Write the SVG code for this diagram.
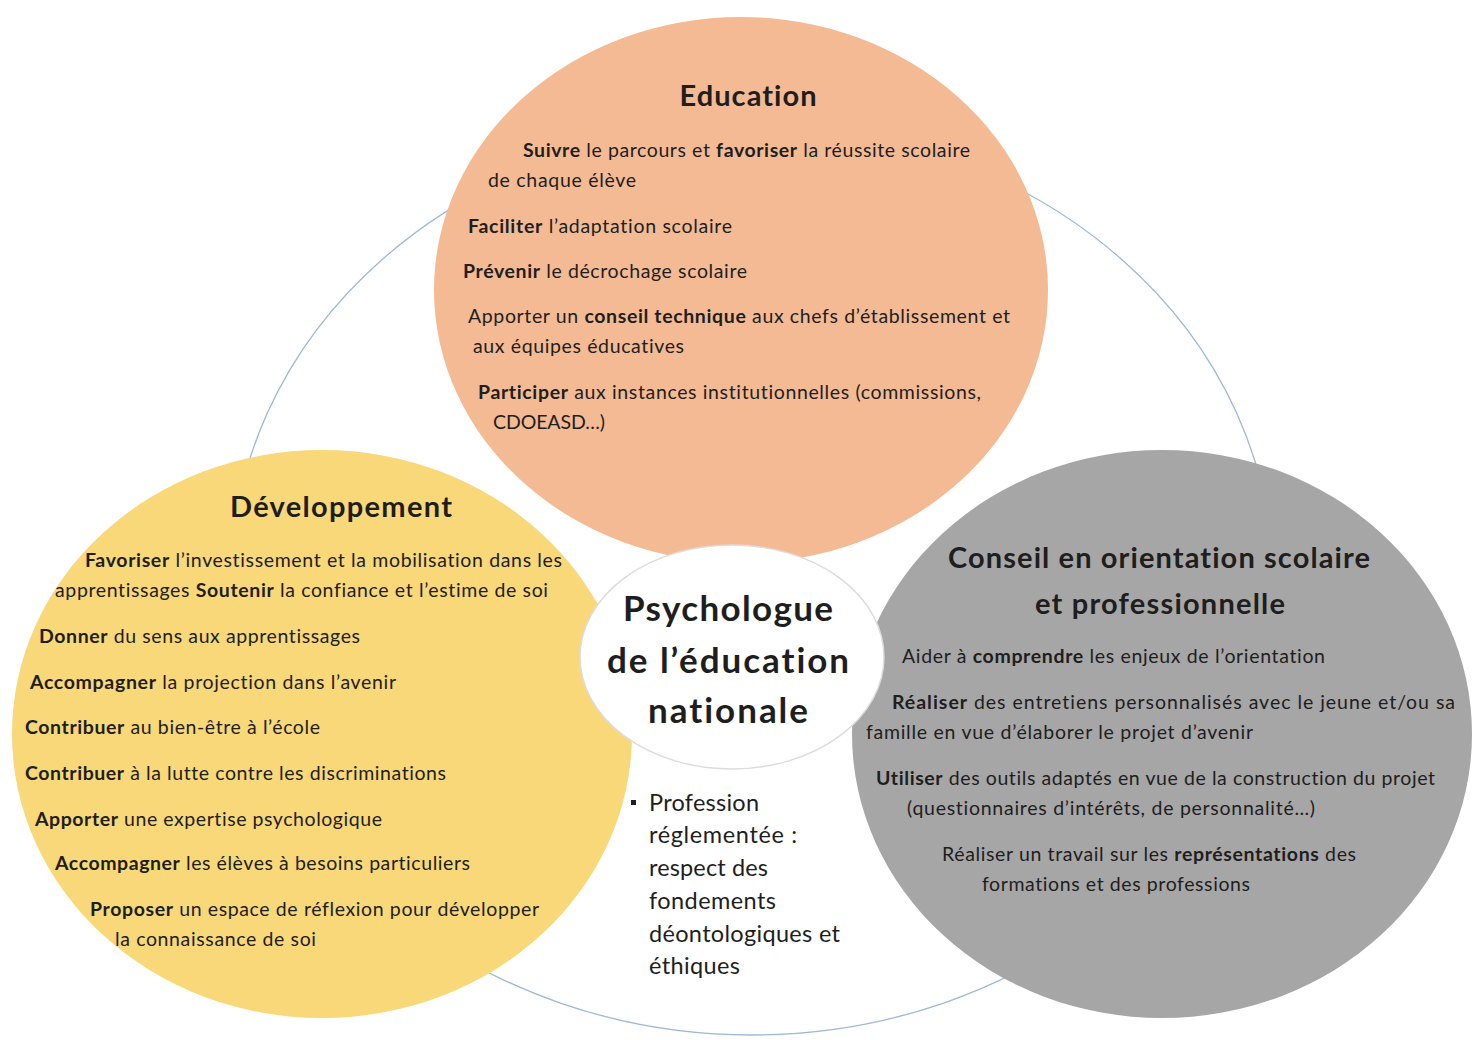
<svg xmlns="http://www.w3.org/2000/svg" width="1476" height="1040" viewBox="0 0 1476 1040">
<style>
text{font-family:Lato,"Open Sans","Liberation Sans",sans-serif;fill:#1e1e1e;font-variant-ligatures:none}
.t{font-size:19.5px}
.h{font-size:29px;font-weight:bold}
.c{font-size:35px;font-weight:bold}
.bl{font-size:23.5px}
.b{font-weight:bold}
</style>
<rect width="1476" height="1040" fill="#ffffff"/>
<g id="connectors">
<ellipse cx="752" cy="580" rx="521" ry="455" fill="none" stroke="#9db9d4" stroke-width="1.3"/>
</g>
<g id="education">
<ellipse cx="741" cy="290" rx="307" ry="273" fill="#f4ba94"/>
<text class="h" x="748" y="106" text-anchor="middle" textLength="137">Education</text>
<text class="t" x="523" y="157" textLength="447"><tspan class="b">Suivre</tspan> le parcours et <tspan class="b">favoriser</tspan> la réussite scolaire</text>
<text class="t" x="488" y="187" textLength="148">de chaque élève</text>
<text class="t" x="468" y="233" textLength="264"><tspan class="b">Faciliter</tspan> l’adaptation scolaire</text>
<text class="t" x="463" y="278" textLength="284"><tspan class="b">Prévenir</tspan> le décrochage scolaire</text>
<text class="t" x="468" y="323" textLength="542">Apporter un <tspan class="b">conseil technique</tspan> aux chefs d’établissement et</text>
<text class="t" x="473" y="353" textLength="211">aux équipes éducatives</text>
<text class="t" x="478" y="399" textLength="503"><tspan class="b">Participer</tspan> aux instances institutionnelles (commissions,</text>
<text class="t" x="493" y="429" textLength="112">CDOEASD…)</text>
</g>
<g id="developpement">
<ellipse cx="322" cy="734" rx="310" ry="284" fill="#f9d879"/>
<text class="h" x="341" y="517" text-anchor="middle" textLength="222">Développement</text>
<text class="t" x="85" y="567" textLength="477"><tspan class="b">Favoriser</tspan> l’investissement et la mobilisation dans les</text>
<text class="t" x="55" y="597" textLength="493">apprentissages <tspan class="b">Soutenir</tspan> la confiance et l’estime de soi</text>
<text class="t" x="39" y="643" textLength="321"><tspan class="b">Donner</tspan> du sens aux apprentissages</text>
<text class="t" x="30" y="689" textLength="366"><tspan class="b">Accompagner</tspan> la projection dans l’avenir</text>
<text class="t" x="25" y="734" textLength="295"><tspan class="b">Contribuer</tspan> au bien-être à l’école</text>
<text class="t" x="25" y="780" textLength="421"><tspan class="b">Contribuer</tspan> à la lutte contre les discriminations</text>
<text class="t" x="35" y="826" textLength="347"><tspan class="b">Apporter</tspan> une expertise psychologique</text>
<text class="t" x="55" y="870" textLength="415"><tspan class="b">Accompagner</tspan> les élèves à besoins particuliers</text>
<text class="t" x="90" y="916" textLength="449"><tspan class="b">Proposer</tspan> un espace de réflexion pour développer</text>
<text class="t" x="115" y="946" textLength="201">la connaissance de soi</text>
</g>
<g id="conseil">
<ellipse cx="1162" cy="734" rx="310" ry="284" fill="#a6a6a6"/>
<text class="h" x="1159" y="568" text-anchor="middle" textLength="422">Conseil en orientation scolaire</text>
<text class="h" x="1160" y="614" text-anchor="middle" textLength="250">et professionnelle</text>
<text class="t" x="902" y="663" textLength="423">Aider à <tspan class="b">comprendre</tspan> les enjeux de l’orientation</text>
<text class="t" x="892" y="709" textLength="563"><tspan class="b">Réaliser</tspan> des entretiens personnalisés avec le jeune et/ou sa</text>
<text class="t" x="866" y="739" textLength="387">famille en vue d’élaborer le projet d’avenir</text>
<text class="t" x="876" y="785" textLength="559"><tspan class="b">Utiliser</tspan> des outils adaptés en vue de la construction du projet</text>
<text class="t" x="907" y="815" textLength="408">(questionnaires d’intérêts, de personnalité…)</text>
<text class="t" x="942" y="861" textLength="414">Réaliser un travail sur les <tspan class="b">représentations</tspan> des</text>
<text class="t" x="982" y="891" textLength="268">formations et des professions</text>
</g>
<g id="psychologue">
<ellipse cx="732" cy="657" rx="152" ry="112" fill="#ffffff" stroke="#dcdcdc" stroke-width="1.5"/>
<text class="c" x="728" y="621" text-anchor="middle" textLength="210">Psychologue</text>
<text class="c" x="728" y="673" text-anchor="middle" textLength="242">de l’éducation</text>
<text class="c" x="728" y="723" text-anchor="middle" textLength="160">nationale</text>
</g>
<g id="profession">
<rect x="631" y="800" width="5" height="5" fill="#1e1e1e"/>
<text class="bl" x="649" y="811" textLength="110">Profession</text>
<text class="bl" x="649" y="843" textLength="148">réglementée :</text>
<text class="bl" x="649" y="876" textLength="119">respect des</text>
<text class="bl" x="649" y="909" textLength="127">fondements</text>
<text class="bl" x="649" y="942" textLength="191">déontologiques et</text>
<text class="bl" x="649" y="974" textLength="91">éthiques</text>
</g>
</svg>
